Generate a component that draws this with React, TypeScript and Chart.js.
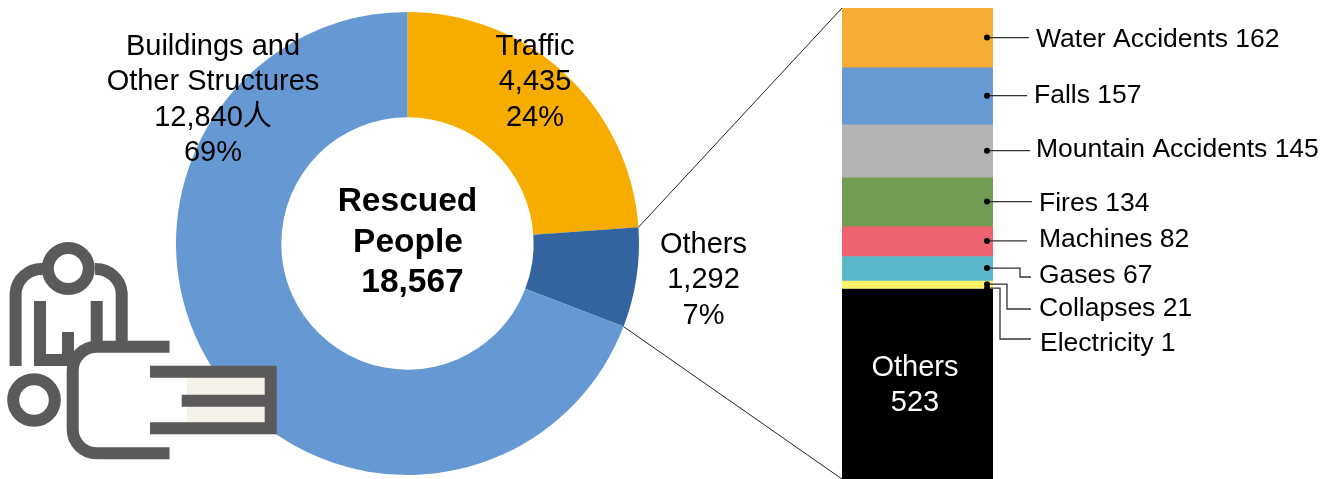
import React, { useEffect, useRef } from "react";
import { Chart, registerables } from "chart.js";

Chart.register(...registerables);

const W = 1333;
const H = 479;

const mainNames = ["Traffic", "Others", "Buildings and Other Structures"];
const mainValues = [4435, 1292, 12840];
const mainColors = ["#F7AC00", "#3464A0", "#6699D3"];
const totalRescued = "18,567";

const detailNames = ["Water Accidents", "Falls", "Mountain Accidents", "Fires", "Machines", "Gases", "Collapses", "Electricity", "Others"];
const detailValues = [162, 157, 145, 134, 82, 67, 21, 1, 523];
const detailColors = ["#F5AD35", "#6799D3", "#B4B4B3", "#739C53", "#EE6370", "#59B9CA", "#FFF168", "#FFF168", "#000000"];

const FONT = '"Liberation Sans", "Noto Sans CJK SC", sans-serif';
const DETAIL_SIZE = 26.5;
const MAIN_SIZE = 29;

// label layout: text left, text baseline y, leader route (after the dot)
const leaderLayout = [
  { x: 1036, y: 47, route: [[1029, null]] },
  { x: 1034, y: 103, route: [[1027, null]] },
  { x: 1036, y: 157, route: [[1030, null]] },
  { x: 1039, y: 211, route: [[1032, null]] },
  { x: 1039, y: 247, route: [[1027, null]] },
  { x: 1039, y: 283, route: [[1020, null], [1020, 277], [1031, 277]] },
  { x: 1039, y: 316, route: [[1007, null], [1007, 309], [1031, 309]] },
  { x: 1040, y: 351, route: [[1000, null], [1000, 339], [1031, 339]] },
];

function drawCentered(ctx: CanvasRenderingContext2D, lines: string[], x: number, y: number, step: number) {
  lines.forEach((t, i) => ctx.fillText(t, x, y + i * step));
}

export default function App() {
  const donutRef = useRef<HTMLCanvasElement>(null);
  const barRef = useRef<HTMLCanvasElement>(null);

  useEffect(() => {
    document.body.style.margin = "0";
    document.body.style.overflow = "hidden";

    const donut = new Chart(donutRef.current!, {
      type: "doughnut",
      data: {
        labels: mainNames,
        datasets: [{ data: mainValues, backgroundColor: mainColors, borderWidth: 0 }],
      },
      options: {
        responsive: false,
        animation: false,
        cutout: "54.5%",
        layout: { padding: { left: 176, top: 12, right: W - 639, bottom: H - 475 } },
        plugins: { legend: { display: false }, tooltip: { enabled: false } },
      },
    });

    const overlay = {
      id: "overlay",
      afterDatasetsDraw(chart: any) {
        const ctx: CanvasRenderingContext2D = chart.ctx;
        ctx.save();

        // zoom lines from the "Others" slice to the breakdown bar
        const arc: any = donut.getDatasetMeta(0).data[1];
        const area = chart.chartArea;
        ctx.strokeStyle = "#222222";
        ctx.lineWidth = 1;
        ctx.beginPath();
        ctx.moveTo(arc.x + Math.cos(arc.startAngle) * arc.outerRadius, arc.y + Math.sin(arc.startAngle) * arc.outerRadius);
        ctx.lineTo(area.left, area.top);
        ctx.moveTo(arc.x + Math.cos(arc.endAngle) * arc.outerRadius, arc.y + Math.sin(arc.endAngle) * arc.outerRadius);
        ctx.lineTo(area.left, area.bottom);
        ctx.stroke();

        // leaders
        leaderLayout.forEach((l, i) => {
          const el: any = chart.getDatasetMeta(i).data[0];
          const dotX = 987;
          const dotY = (el.y + el.base) / 2;
          ctx.strokeStyle = "#333333";
          ctx.lineWidth = 1.3;
          ctx.beginPath();
          ctx.moveTo(dotX, dotY);
          l.route.forEach(([px, py]) => ctx.lineTo(px as number, (py ?? dotY) as number));
          ctx.stroke();
          ctx.fillStyle = "#000000";
          ctx.beginPath();
          ctx.arc(dotX, dotY, 3, 0, Math.PI * 2);
          ctx.fill();
        });

        // texts
        ctx.fillStyle = "#000000";
        ctx.textBaseline = "alphabetic";
        ctx.font = `${DETAIL_SIZE}px ${FONT}`;
        ctx.textAlign = "left";
        leaderLayout.forEach((l, i) => ctx.fillText(`${detailNames[i]} ${detailValues[i]}`, l.x, l.y));

        ctx.textAlign = "center";
        ctx.font = `${MAIN_SIZE}px ${FONT}`;
        drawCentered(ctx, ["Buildings and", "Other Structures", `${mainValues[2].toLocaleString("en-US")}人`, "69%"], 213, 55, 35.3);
        drawCentered(ctx, [mainNames[0], mainValues[0].toLocaleString("en-US"), "24%"], 535, 55, 35.3);
        drawCentered(ctx, [mainNames[1], mainValues[1].toLocaleString("en-US"), "7%"], 703.5, 253, 35.3);

        ctx.fillStyle = "#FFFFFF";
        drawCentered(ctx, [detailNames[8], String(detailValues[8])], 915, 376, 35);

        ctx.fillStyle = "#000000";
        ctx.font = `bold 33.5px ${FONT}`;
        ctx.fillText("Rescued", 407.5, 211);
        ctx.fillText("People", 408, 251.5);
        ctx.fillText(totalRescued, 412.5, 292);
        ctx.restore();
      },
    };

    const bar = new Chart(barRef.current!, {
      type: "bar",
      data: {
        labels: ["Others"],
        datasets: detailValues.map((v, i) => ({
          label: detailNames[i],
          data: [v],
          backgroundColor: detailColors[i],
          borderWidth: 0,
          categoryPercentage: 1,
          barPercentage: 1,
        })),
      },
      options: {
        responsive: false,
        animation: false,
        layout: { padding: { left: 842, top: 8, right: W - 993, bottom: -1 } },
        scales: {
          x: { stacked: true, display: false },
          y: { stacked: true, display: false, reverse: true, min: 0, max: 1292 },
        },
        plugins: { legend: { display: false }, tooltip: { enabled: false } },
      },
      plugins: [overlay],
    });

    return () => {
      bar.destroy();
      donut.destroy();
    };
  }, []);

  const stroke = { fill: "none", stroke: "#5B5959", strokeWidth: 12 };

  return (
    <div style={{ position: "fixed", left: 0, top: 0, width: W, height: H, overflow: "hidden", background: "#fff" }}>
      <canvas ref={donutRef} width={W} height={H} style={{ position: "absolute", left: 0, top: 0 }} />
      <svg width={W} height={H} style={{ position: "absolute", left: 0, top: 0 }}>
        <rect x={150} y={372} width={121} height={56} fill="#FFFFFF" />
        <rect x={187} y={377} width={78} height={46} fill="#F4F1E9" />
        <circle cx={68.3} cy={268.5} r={20.5} {...stroke} />
        <circle cx={34} cy={400} r={20.8} {...stroke} />
        <path d="M15.6 366 V293 A26 26 0 0 1 43 269" {...stroke} />
        <path d="M121.7 342 V293 A26 26 0 0 0 95 269" {...stroke} />
        <path d="M40 301 V360 H72" {...stroke} />
        <path d="M68 332 V360" {...stroke} />
        <path d="M96.7 301 V342" {...stroke} />
        <path d="M169.5 346.7 H96.7 A24 24 0 0 0 72.7 371 V429 A24 24 0 0 0 96.7 453.3 H169.5" {...stroke} />
        <path d="M150 371.7 H270.7 V428.3 H150" {...stroke} />
        <path d="M181.7 400.7 H270.7" {...stroke} />
      </svg>
      <canvas ref={barRef} width={W} height={H} style={{ position: "absolute", left: 0, top: 0 }} />
    </div>
  );
}
